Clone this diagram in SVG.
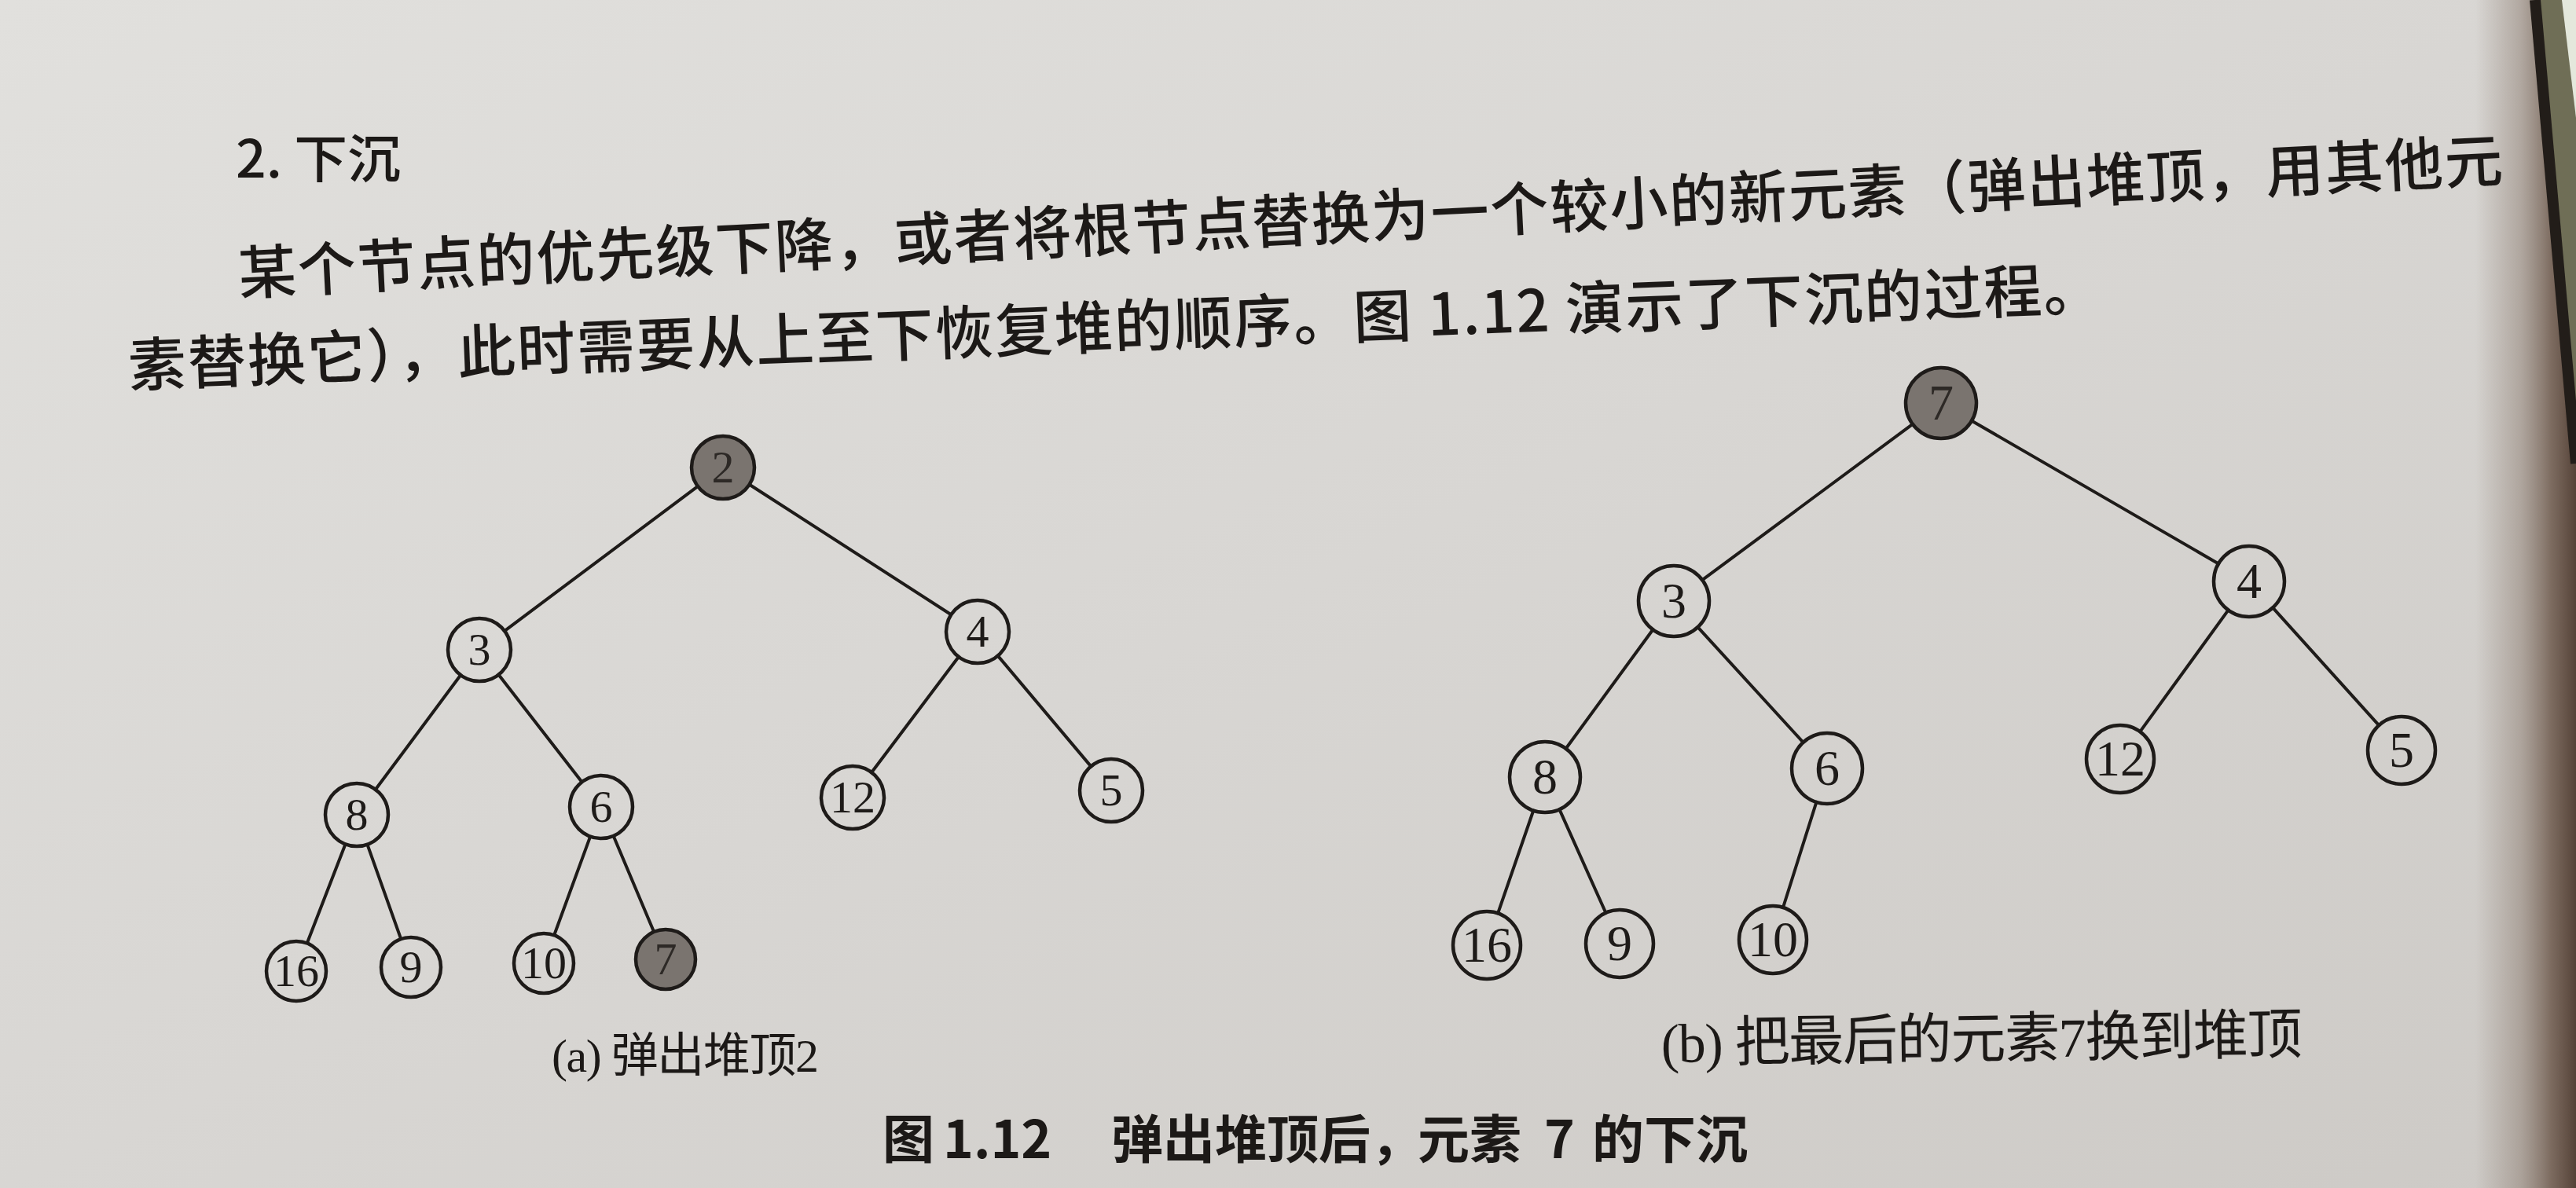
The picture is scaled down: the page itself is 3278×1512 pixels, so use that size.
<svg xmlns="http://www.w3.org/2000/svg" width="3278" height="1512" viewBox="0 0 3278 1512">
<defs>
<linearGradient id="paper" x1="0" y1="0" x2="1" y2="1">
<stop offset="0" stop-color="#e1e0dd"/>
<stop offset="0.5" stop-color="#d8d6d3"/>
<stop offset="1" stop-color="#cdcac6"/>
</linearGradient>
<linearGradient id="shade" x1="0" y1="0" x2="1" y2="0">
<stop offset="0" stop-color="#8a7a6e" stop-opacity="0"/>
<stop offset="0.45" stop-color="#8a7a6e" stop-opacity="0.5"/>
<stop offset="0.75" stop-color="#6e5a4d" stop-opacity="0.85"/>
<stop offset="1" stop-color="#4e3b30" stop-opacity="0.95"/>
</linearGradient>
<style>
.edge{stroke:#1e1b19;stroke-width:4;fill:none;stroke-linecap:round}
.n{fill:none;stroke:#1e1b19;stroke-width:4.5}
.g{fill:#7a746f;stroke:#1e1b19;stroke-width:4.5}
.da{font-family:"Liberation Serif","Times New Roman",serif;font-size:58px;text-anchor:middle;fill:#1e1b19}
.db{font-family:"Liberation Serif","Times New Roman",serif;font-size:64px;text-anchor:middle;fill:#1e1b19}
.dg{fill:#2d2926}
.cjk{font-family:"Noto Sans CJK SC","Noto Sans CJK JP",sans-serif;fill:#1c1917}
.cap{font-family:"Liberation Serif","Noto Sans CJK SC",serif;fill:#1c1917}
</style>
</defs>

<!-- page -->
<rect x="0" y="0" width="3278" height="1512" fill="url(#paper)"/>
<rect x="3150" y="0" width="128" height="1512" fill="url(#shade)"/>
<polygon points="3232,0 3278,0 3278,540" fill="#6f6e56"/>
<polygon points="3260,0 3278,0 3278,150" fill="#e4e8dc"/>
<line x1="3226" y1="0" x2="3278" y2="590" stroke="#221d19" stroke-width="14"/>

<!-- body text -->
<text class="cjk" x="300" y="226" font-size="66" font-weight="500" textLength="210" lengthAdjust="spacingAndGlyphs">2. 下沉</text>
<g transform="translate(303,347) rotate(-2.87)">
<text class="cjk" x="0" y="28" font-size="74" font-weight="500" textLength="2885" lengthAdjust="spacing">某个节点的优先级下降，或者将根节点替换为一个较小的新元素（弹出堆顶，用其他元</text>
</g>
<g transform="translate(163,464) rotate(-2.24)">
<text class="cjk" x="0" y="28" font-size="74" font-weight="500" textLength="2513" lengthAdjust="spacing">素替换它），此时需要从上至下恢复堆的顺序。图 1.12 演示了下沉的过程。</text>
</g>

<!-- connectors -->
<g id="connectors">
<line class="edge" x1="886.4" y1="620.2" x2="643.6" y2="801.8"/>
<line class="edge" x1="955.3" y1="617.8" x2="1208.7" y2="781.2"/>
<line class="edge" x1="585.0" y1="860.7" x2="479.0" y2="1003.3"/>
<line class="edge" x1="635.7" y1="860.2" x2="739.3" y2="993.8"/>
<line class="edge" x1="1218.7" y1="837.5" x2="1110.3" y2="981.5"/>
<line class="edge" x1="1271.0" y1="836.1" x2="1387.0" y2="973.9"/>
<line class="edge" x1="438.8" y1="1076.2" x2="391.4" y2="1198.7"/>
<line class="edge" x1="468.1" y1="1076.6" x2="509.6" y2="1193.3"/>
<line class="edge" x1="750.5" y1="1066.4" x2="705.8" y2="1188.5"/>
<line class="edge" x1="781.4" y1="1065.7" x2="831.4" y2="1184.2"/>

<line class="edge" x1="2433.8" y1="539.8" x2="2166.2" y2="738.2"/>
<line class="edge" x1="2508.9" y1="535.5" x2="2823.1" y2="717.5"/>
<line class="edge" x1="2103.4" y1="801.3" x2="1992.6" y2="952.7"/>
<line class="edge" x1="2160.4" y1="798.2" x2="2294.6" y2="944.8"/>
<line class="edge" x1="2835.6" y1="776.4" x2="2723.3" y2="931.2"/>
<line class="edge" x1="2892.1" y1="773.4" x2="3027.2" y2="923.1"/>
<line class="edge" x1="1951.3" y1="1031.5" x2="1906.1" y2="1162.4"/>
<line class="edge" x1="1984.4" y1="1030.1" x2="2043.4" y2="1161.8"/>
<line class="edge" x1="2311.4" y1="1020.9" x2="2269.0" y2="1155.0"/>
</g>

<!-- tree (a) -->
<g id="a-2"><circle class="g" cx="920" cy="595" r="40"/><text class="da dg" x="920" y="614">2</text></g>
<g id="a-3"><circle class="n" cx="610" cy="827" r="40"/><text class="da" x="610" y="846">3</text></g>
<g id="a-4"><circle class="n" cx="1244" cy="804" r="40"/><text class="da" x="1244" y="823">4</text></g>
<g id="a-8"><circle class="n" cx="454" cy="1037" r="40"/><text class="da" x="454" y="1056">8</text></g>
<g id="a-6"><circle class="n" cx="765" cy="1027" r="40"/><text class="da" x="765" y="1046">6</text></g>
<g id="a-12"><circle class="n" cx="1085" cy="1015" r="40"/><text class="da" x="1085" y="1034">12</text></g>
<g id="a-5"><circle class="n" cx="1414" cy="1006" r="40"/><text class="da" x="1414" y="1025">5</text></g>
<g id="a-16"><circle class="n" cx="377" cy="1236" r="38"/><text class="da" x="377" y="1255">16</text></g>
<g id="a-9"><circle class="n" cx="523" cy="1231" r="38"/><text class="da" x="523" y="1250">9</text></g>
<g id="a-10"><circle class="n" cx="692" cy="1226" r="38"/><text class="da" x="692" y="1245">10</text></g>
<g id="a-7"><circle class="g" cx="847" cy="1221" r="38"/><text class="da dg" x="847" y="1240">7</text></g>

<!-- tree (b) -->
<g id="b-7"><circle class="g" cx="2470" cy="513" r="45"/><text class="db dg" x="2470" y="534">7</text></g>
<g id="b-3"><circle class="n" cx="2130" cy="765" r="45"/><text class="db" x="2130" y="786">3</text></g>
<g id="b-4"><circle class="n" cx="2862" cy="740" r="45"/><text class="db" x="2862" y="761">4</text></g>
<g id="b-8"><circle class="n" cx="1966" cy="989" r="45"/><text class="db" x="1966" y="1010">8</text></g>
<g id="b-6"><circle class="n" cx="2325" cy="978" r="45"/><text class="db" x="2325" y="999">6</text></g>
<g id="b-12"><circle class="n" cx="2698" cy="966" r="43"/><text class="db" x="2698" y="987">12</text></g>
<g id="b-5"><circle class="n" cx="3056" cy="955" r="43"/><text class="db" x="3056" y="976">5</text></g>
<g id="b-16"><circle class="n" cx="1892" cy="1203" r="43"/><text class="db" x="1892" y="1224">16</text></g>
<g id="b-9"><circle class="n" cx="2061" cy="1201" r="43"/><text class="db" x="2061" y="1222">9</text></g>
<g id="b-10"><circle class="n" cx="2256" cy="1196" r="43"/><text class="db" x="2256" y="1217">10</text></g>

<!-- captions -->
<text class="cap" x="702" y="1364" font-size="60" textLength="340" lengthAdjust="spacing">(a) 弹出堆顶2</text>
<g transform="translate(2114,1352) rotate(-0.8)">
<text class="cap" x="0" y="0" font-size="70" textLength="816" lengthAdjust="spacing">(b) 把最后的元素7换到堆顶</text>
</g>
<text class="cjk" y="1474" font-size="66" font-weight="700"><tspan x="1123">图</tspan><tspan x="1200">1.12</tspan><tspan x="1414">弹出堆顶后，</tspan><tspan x="1804">元素</tspan><tspan x="1965">7</tspan><tspan x="2026">的下沉</tspan></text>
</svg>
